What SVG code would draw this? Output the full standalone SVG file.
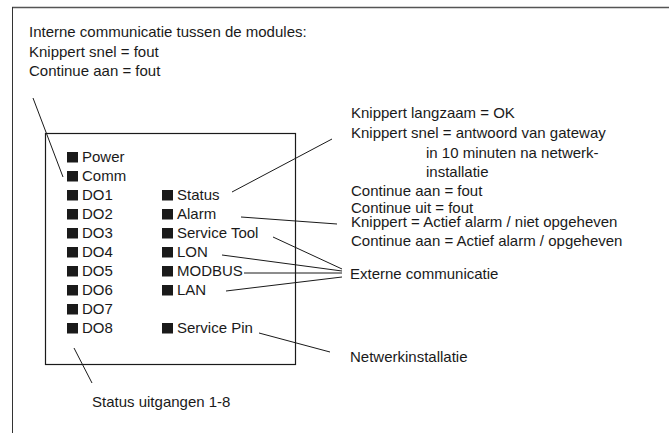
<svg xmlns="http://www.w3.org/2000/svg" width="669" height="433" viewBox="0 0 669 433">
<style>
text{font-family:"Liberation Sans",Arial,sans-serif;font-size:15px;fill:#1a1a1a}
.led{fill:#1a1a1a}
.c line{stroke:#1a1a1a;stroke-width:1}
</style>
<defs><rect id="sq" class="led" width="11" height="10.5"/></defs>
<rect width="669" height="433" fill="#fff"/>
<g id="frame">
<line x1="12" y1="7.5" x2="669" y2="7.5" stroke="#555" stroke-width="1.6"/>
<line x1="12.5" y1="7" x2="12.5" y2="433" stroke="#333" stroke-width="1"/>
</g>
<g id="module">
<rect x="45.5" y="133.5" width="250" height="231" fill="none" stroke="#1a1a1a" stroke-width="1.2"/>
</g>
<g id="led-left">
<use href="#sq" x="67" y="152"/><text x="82" y="162">Power</text>
<use href="#sq" x="67" y="171"/><text x="82" y="181">Comm</text>
<use href="#sq" x="67" y="190"/><text x="82" y="200">DO1</text>
<use href="#sq" x="67" y="209"/><text x="82" y="219">DO2</text>
<use href="#sq" x="67" y="228"/><text x="82" y="238">DO3</text>
<use href="#sq" x="67" y="247"/><text x="82" y="257">DO4</text>
<use href="#sq" x="67" y="266"/><text x="82" y="276">DO5</text>
<use href="#sq" x="67" y="285"/><text x="82" y="295">DO6</text>
<use href="#sq" x="67" y="304"/><text x="82" y="314">DO7</text>
<use href="#sq" x="67" y="323"/><text x="82" y="333">DO8</text>
</g>
<g id="led-right">
<use href="#sq" x="162" y="190"/><text x="177" y="200">Status</text>
<use href="#sq" x="162" y="209"/><text x="177" y="219">Alarm</text>
<use href="#sq" x="162" y="228"/><text x="177" y="238">Service Tool</text>
<use href="#sq" x="162" y="247"/><text x="177" y="257">LON</text>
<use href="#sq" x="162" y="266"/><text x="177" y="276">MODBUS</text>
<use href="#sq" x="162" y="285"/><text x="177" y="295">LAN</text>
<use href="#sq" x="162" y="323"/><text x="177" y="333">Service Pin</text>
</g>
<g id="label-interne">
<text x="29" y="37">Interne communicatie tussen de modules:</text>
<text x="29" y="57">Knippert snel = fout</text>
<text x="29" y="76">Continue aan = fout</text>
</g>
<g id="label-status">
<text x="351" y="118">Knippert langzaam = OK</text>
<text x="351" y="138">Knippert snel = antwoord van gateway</text>
<text x="426" y="158">in 10 minuten na netwerk-</text>
<text x="426" y="177">installatie</text>
<text x="351" y="196">Continue aan = fout</text>
<text x="351" y="213">Continue uit = fout</text>
</g>
<g id="label-alarm">
<text x="351" y="227">Knippert = Actief alarm / niet opgeheven</text>
<text x="351" y="246">Continue aan = Actief alarm / opgeheven</text>
</g>
<g id="label-extern"><text x="350" y="279">Externe communicatie</text></g>
<g id="label-netwerk"><text x="350" y="362">Netwerkinstallatie</text></g>
<g id="label-uitgangen"><text x="92" y="407">Status uitgangen 1-8</text></g>
<g id="connectors" class="c">
<line x1="33" y1="98" x2="63" y2="177"/>
<line x1="232" y1="192" x2="332" y2="139"/>
<line x1="241" y1="217" x2="337" y2="224"/>
<line x1="273" y1="237" x2="342" y2="269"/>
<line x1="222" y1="255" x2="342" y2="271"/>
<line x1="244" y1="273" x2="342" y2="273"/>
<line x1="226" y1="291" x2="342" y2="277"/>
<line x1="259" y1="333" x2="330" y2="352"/>
<line x1="74" y1="348" x2="92" y2="383"/>
</g>
</svg>
